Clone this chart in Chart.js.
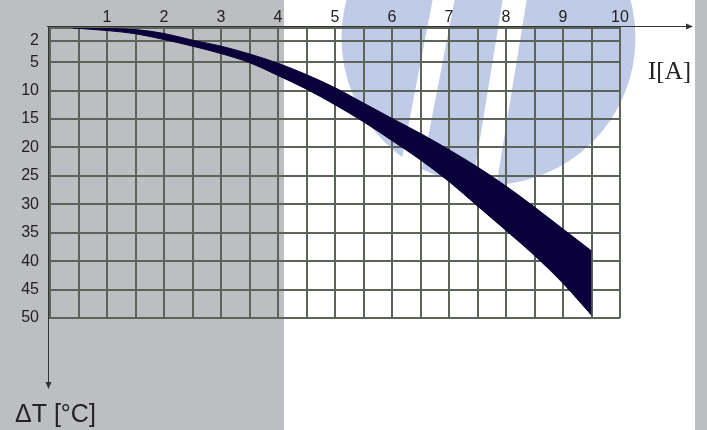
<!DOCTYPE html>
<html lang="en">
<head>
    <meta charset="UTF-8">
    <title>Temperature rise vs current</title>
    <script src="https://cdn.jsdelivr.net/npm/chart.js"></script>
    <style>
        html, body { margin: 0; padding: 0; background: #fff; }
        #wrap { width: 707px; height: 430px; }
    </style>
</head>
<body>
<div id="wrap"><canvas id="riseChart" width="707" height="430"></canvas></div>

<script>
    // current I [A] and the two edges of the band (delta T in °C)
    const current  = [0.4, 1, 1.5, 2, 2.5, 3, 3.5, 4, 4.5, 5, 5.5, 6, 6.5, 7, 7.5, 8, 8.5, 9, 9.5];
    const riseLow  = [0, 0.08, 0.25, 0.85, 1.9, 2.75, 3.85, 5.2, 7.2, 9.5, 12.2, 14.9, 17.55, 20.4, 23.45, 26.8, 30.5, 34.35, 38.2];
    const riseHigh = [0, 0.4, 0.9, 1.8, 2.75, 3.8, 5.1, 7.35, 9.75, 12.5, 15.5, 18.8, 22.2, 26.0, 30.3, 34.6, 39.0, 43.9, 49.5];

    const xTickLabels = [1, 2, 3, 4, 5, 6, 7, 8, 9, 10];
    const yTickLabels = [2, 5, 10, 15, 20, 25, 30, 35, 40, 45, 50];

    const navy = '#0a003a';
    const gridColor = '#5c6459';
    const textColor = '#222';

    // the y axis is stretched at the top: 0-2 and 2-5 get their own steps, linear from 5 on
    function bend(v) {
        if (v <= 2) return -1 + v * 1.125;
        if (v <= 5) return 1.25 + (v - 2) * 1.25;
        return v;
    }
    function unbend(u) {
        if (u <= 1.25) return (u + 1) / 1.125;
        if (u <= 5) return 2 + (u - 1.25) / 1.25;
        return u;
    }

    class BentScale extends Chart.LinearScale {
        getPixelForValue(v) { return super.getPixelForValue(v == null ? v : bend(v)); }
        getValueForPixel(p) { return unbend(super.getValueForPixel(p)); }
    }
    BentScale.id = 'bent';
    BentScale.defaults = Chart.LinearScale.defaults;
    Chart.register(BentScale);

    Chart.defaults.font.family = "'Liberation Sans', Arial, sans-serif";

    const backdrop = {
        id: 'backdrop',
        beforeDraw(chart) {
            const ctx = chart.ctx;
            ctx.save();
            ctx.fillStyle = '#fff';
            ctx.fillRect(0, 0, 707, 430);
            ctx.fillStyle = '#bdbec2';
            ctx.fillRect(0, 0, 284, 430);
            ctx.fillRect(695, 0, 12, 430);

            // faint logo behind the grid
            ctx.fillStyle = '#bfcbe7';
            ctx.beginPath();
            ctx.arc(488.5, 38, 147, 0, Math.PI * 2);
            ctx.fill();
            ctx.fillStyle = '#fff';
            ctx.beginPath();
            ctx.moveTo(433, -2); ctx.lineTo(455, -2); ctx.lineTo(416, 200); ctx.lineTo(394, 200);
            ctx.closePath();
            ctx.fill();
            ctx.beginPath();
            ctx.moveTo(503, -2); ctx.lineTo(527, -2); ctx.lineTo(494, 200); ctx.lineTo(470, 200);
            ctx.closePath();
            ctx.fill();
            ctx.restore();
        },
        afterDraw(chart) {
            const ctx = chart.ctx;
            ctx.save();
            ctx.strokeStyle = '#333';
            ctx.fillStyle = '#333';
            ctx.lineWidth = 1;
            // I axis arrow
            ctx.beginPath();
            ctx.moveTo(47, 26.5); ctx.lineTo(688, 26.5);
            ctx.stroke();
            ctx.beginPath();
            ctx.moveTo(686, 23.5); ctx.lineTo(693, 26.5); ctx.lineTo(686, 29.5);
            ctx.closePath();
            ctx.fill();
            // dT axis arrow
            ctx.beginPath();
            ctx.moveTo(48.5, 26); ctx.lineTo(48.5, 384);
            ctx.stroke();
            ctx.beginPath();
            ctx.moveTo(45.5, 382); ctx.lineTo(48.5, 389); ctx.lineTo(51.5, 382);
            ctx.closePath();
            ctx.fill();

            ctx.fillStyle = textColor;
            ctx.textBaseline = 'alphabetic';
            ctx.textAlign = 'left';
            ctx.font = "25px 'Liberation Serif', 'Times New Roman', serif";
            ctx.fillText('I[A]', 648, 79);
            ctx.font = "25px 'Liberation Sans', Arial, sans-serif";
            ctx.fillText('ΔT [°C]', 15, 422);
            ctx.restore();
        }
    };

    const xSteps = [];
    for (let i = 0; i <= 20; i++) xSteps.push(i / 2);

    new Chart(document.getElementById('riseChart').getContext('2d'), {
        type: 'line',
        data: {
            datasets: [
                {
                    label: 'low',
                    data: current.map((x, i) => ({ x: x, y: riseLow[i] })),
                    borderColor: navy,
                    backgroundColor: navy,
                    borderWidth: 1,
                    pointRadius: 0,
                    fill: false,
                    cubicInterpolationMode: 'monotone'
                },
                {
                    label: 'high',
                    data: current.map((x, i) => ({ x: x, y: riseHigh[i] })),
                    borderColor: navy,
                    backgroundColor: navy,
                    borderWidth: 1,
                    pointRadius: 0,
                    fill: '-1',
                    cubicInterpolationMode: 'monotone'
                }
            ]
        },
        options: {
            responsive: false,
            animation: false,
            layout: { padding: { left: 0, top: 0, right: 87, bottom: 112 } },
            plugins: { legend: { display: false }, tooltip: { enabled: false } },
            scales: {
                x: {
                    type: 'linear',
                    position: 'top',
                    min: 0,
                    max: 10,
                    afterBuildTicks: (s) => { s.ticks = xSteps.map(v => ({ value: v })); },
                    afterFit: (s) => { s.height = 28; },
                    grid: { color: gridColor, lineWidth: 2, drawTicks: false },
                    border: { display: true, color: gridColor, width: 2 },
                    ticks: {
                        autoSkip: false,
                        maxRotation: 0,
                        padding: 1,
                        color: textColor,
                        font: { size: 16 },
                        callback: (v) => xTickLabels.includes(v) ? String(v) : ''
                    }
                },
                y: {
                    type: 'bent',
                    reverse: true,
                    bounds: 'data',
                    min: -1,
                    max: 50,
                    afterBuildTicks: (s) => { s.ticks = [0].concat(yTickLabels).map(v => ({ value: v })); },
                    afterFit: (s) => { s.width = 50; },
                    grid: { color: gridColor, lineWidth: 2, drawTicks: false },
                    border: { display: true, color: gridColor, width: 2 },
                    ticks: {
                        autoSkip: false,
                        padding: 11,
                        color: textColor,
                        font: { size: 16 },
                        callback: (v) => yTickLabels.includes(v) ? String(v) : ''
                    }
                }
            }
        },
        plugins: [backdrop]
    });
</script>
</body>
</html>
